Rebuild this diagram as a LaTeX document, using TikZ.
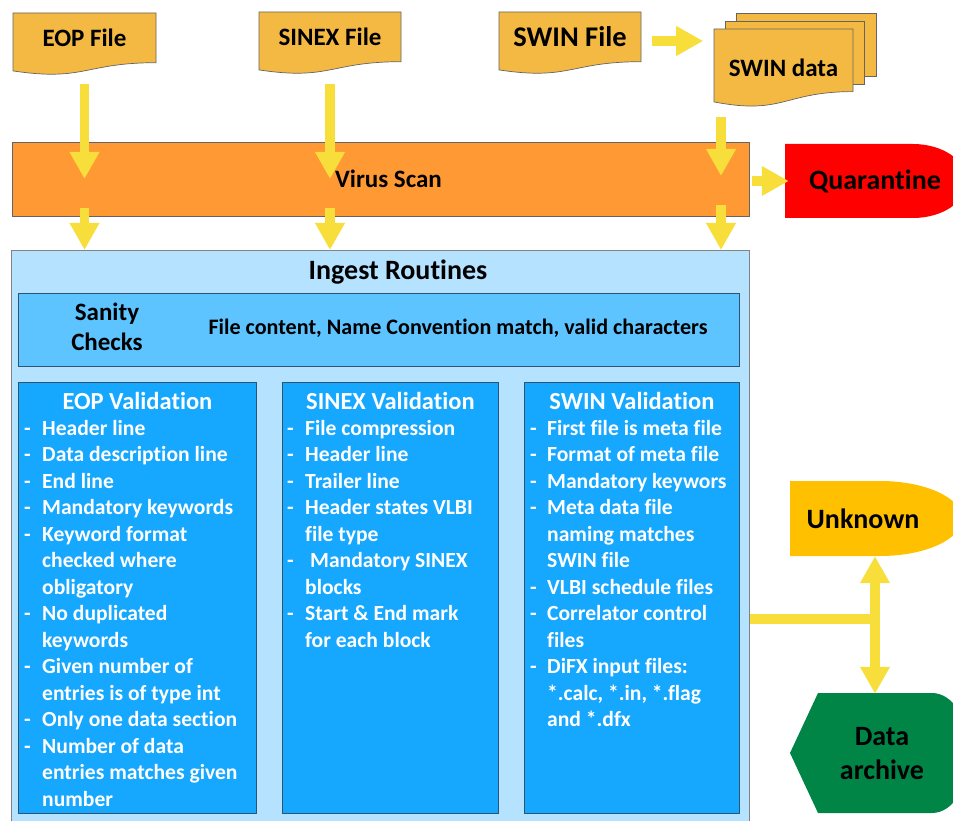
\documentclass[tikz,border=0pt]{standalone}
\usepackage{fontspec}
\setmainfont{Carlito}[Ligatures=NoCommon]
\usetikzlibrary{calc, positioning, arrows.meta}

\definecolor{docyellow}{RGB}{244,185,66}
\definecolor{docedge}{RGB}{100,100,100}
\definecolor{arrowyellow}{RGB}{247,222,58}
\definecolor{scanorange}{RGB}{255,153,51}
\definecolor{quarred}{RGB}{255,0,0}
\definecolor{unkyellow}{RGB}{255,192,0}
\definecolor{archgreen}{RGB}{0,133,71}
\definecolor{ingestblue}{RGB}{180,226,255}
\definecolor{sanityblue}{RGB}{93,196,255}
\definecolor{validblue}{RGB}{22,167,255}
\definecolor{validedge}{RGB}{45,85,115}

\begin{document}
\begin{tikzpicture}[x=1pt, y=-1pt,
  fatarrow/.style={draw=arrowyellow, line width=9.5pt, -{Triangle[width=28pt,length=27pt]}},
  fatline/.style={draw=arrowyellow, line width=9.5pt},
  doc/.style={fill=docyellow, draw=docedge, line width=0.7pt},
  doctext/.style={font=\bfseries\fontsize{25}{30}\selectfont, inner sep=0pt},
  bigtext/.style={font=\bfseries\fontsize{28}{34}\selectfont, inner sep=0pt, align=center},
  validbox/.style={fill=validblue, draw=validedge, line width=0.8pt, anchor=north west, minimum height=431pt},
  validtitle/.style={font=\bfseries\fontsize{24.5}{29}\selectfont, text=white, anchor=base, inner sep=0pt},
  validlist/.style={font=\bfseries\fontsize{21.6}{26.5}\selectfont, text=white, anchor=base west, inner sep=0pt}]
  \useasboundingbox (0,0) rectangle (953,821);

  % Input files
  \draw[doc] (13,13) -- (156,13) -- (156,62.7) .. controls (84.5,62.7) and (84.5,81.7) .. (13,70.9) -- cycle;
  \node[doctext, minimum width=143pt, minimum height=50pt] (eop) at (84.5,38) {EOP File};
  \draw[doc] (259,12) -- (401,12) -- (401,61.7) .. controls (330,61.7) and (330,80.7) .. (259,69.9) -- cycle;
  \node[doctext, minimum width=142pt, minimum height=50pt] (sinex) at (330,37) {SINEX File};
  \draw[doc] (499,12) -- (641,12) -- (641,61.7) .. controls (570,61.7) and (570,80.7) .. (499,69.9) -- cycle;
  \node[doctext, font=\bfseries\fontsize{28.5}{34}\selectfont, minimum width=142pt, minimum height=50pt] (swinfile) at (570,37) {SWIN File};

  % Stack of SWIN data
  \draw[doc] (736,13) rectangle (876,76);
  \draw[doc] (725,21) rectangle (864,84);
  \draw[doc] (714,29) -- (853,29) -- (853,91.6) .. controls (783.5,91.6) and (783.5,115.4) .. (714,101.9) -- cycle;
  \node[doctext, minimum width=139pt, minimum height=46pt] (swindata) at (783.5,68) {SWIN data};
  \draw[fatarrow] ([shift={(11,4)}]swinfile.east) -- ++(51,0);

  % Virus scan
  \node[fill=scanorange, draw=docedge, line width=0.7pt, minimum width=737pt, minimum height=74pt,
        font=\bfseries\fontsize{25}{30}\selectfont] (virus) at (380.5,179) {\hspace*{16pt}Virus Scan};

  % Quarantine
  \fill[quarred] (785,144) -- (913,144) arc[start angle=90, end angle=-90, x radius=54pt, y radius=37pt] -- (785,218) -- cycle;
  \node[bigtext, minimum width=180pt, minimum height=74pt] (quar) at (875,181) {Quarantine};

  % Ingest routines
  \node[fill=ingestblue, draw=docedge!80, line width=0.8pt, anchor=north west,
        minimum width=738pt, minimum height=600pt] (ingest) at (11,250) {};
  \node[bigtext] (ingesttitle) at (398,272) {Ingest Routines};

  % Sanity checks
  \node[fill=sanityblue, draw=validedge, line width=0.8pt, minimum width=721pt, minimum height=73pt] (sanity) at (378.5,329.5) {};
  \node[font=\bfseries\fontsize{25}{30}\selectfont, align=center, inner sep=0pt] (sanitylabel) at (107,327) {Sanity\\Checks};
  \node[font=\bfseries\fontsize{22.1}{26.5}\selectfont, inner sep=0pt] (sanitytext) at (458,328)
    {File content, Name Convention match, valid characters};

  % Validation boxes
  \node[validbox, minimum width=238pt] (eopbox) at (18,382) {};
  \node[validbox, minimum width=216pt] (sinexbox) at (282,382) {};
  \node[validbox, minimum width=215pt] (swinbox) at (524,382) {};

  \node[validtitle] (eoptitle) at ($(eopbox.north)+(0,27)$) {EOP Validation};
  \node[validtitle] (sinextitle) at ($(sinexbox.north)+(0,27)$) {SINEX Validation};
  \node[validtitle] (swintitle) at ($(swinbox.north)+(0,27)$) {SWIN Validation};

  \node[validlist] (eoplist) at ($(eopbox.north west)+(6,53)$) {%
    \begin{tabular}[t]{@{}p{18pt}@{}l@{}}
    - & Header line\\
    - & Data description line\\
    - & End line\\
    - & Mandatory keywords\\
    - & Keyword format\\
      & checked where\\
      & obligatory\\
    - & No duplicated\\
      & keywords\\
    - & Given number of\\
      & entries is of type int\\
    - & Only one data section\\
    - & Number of data\\
      & entries matches given\\
      & number
    \end{tabular}};

  \node[validlist] (sinexlist) at ($(sinexbox.north west)+(5,53)$) {%
    \begin{tabular}[t]{@{}p{18pt}@{}l@{}}
    - & File compression\\
    - & Header line\\
    - & Trailer line\\
    - & Header states VLBI\\
      & file type\\
    - & \hspace{5pt}Mandatory SINEX\\
      & blocks\\
    - & Start \& End mark\\
      & for each block
    \end{tabular}};

  \node[validlist] (swinlist) at ($(swinbox.north west)+(6,53)$) {%
    \begin{tabular}[t]{@{}p{17pt}@{}l@{}}
    - & First file is meta file\\
    - & Format of meta file\\
    - & Mandatory keywors\\
    - & Meta data file\\
      & naming matches\\
      & SWIN file\\
    - & VLBI schedule files\\
    - & Correlator control\\
      & files\\
    - & DiFX input files:\\
      & *.calc, *.in, *.flag\\
      & and *.dfx
    \end{tabular}};

  % Unknown
  \fill[unkyellow] (790,481) -- (880,481) arc[start angle=90, end angle=-90, x radius=82pt, y radius=37.5pt] -- (790,556) -- cycle;
  \node[bigtext, minimum width=146pt, minimum height=75pt] (unknown) at (863,518.5) {Unknown};

  % Data archive
  \fill[archgreen] (790,753) -- (818,693) -- (932,693) arc[start angle=90, end angle=-90, x radius=38pt, y radius=60pt] -- (818,813) -- cycle;
  \node[bigtext, minimum width=184pt, minimum height=120pt] (archive) at (882,754) {Data\\archive};

  % Arrows into the virus scan
  \coordinate (swinx) at ([xshift=-62.5pt]swindata.south);
  \draw[fatarrow] ([yshift=-21pt]eop.south) -- (eop.south |- virus.center);
  \draw[fatarrow] ([yshift=-22pt]sinex.south) -- (sinex.south |- virus.center);
  \draw[fatarrow] ($(swinx)+(0,26)$) -- ($(swinx |- virus.center)+(0,-3)$);

  % Arrows out of the virus scan
  \draw[fatarrow] ($(eop.south |- virus.south)+(0,-8)$) -- (eop.south |- ingest.north);
  \draw[fatarrow] ($(sinex.south |- virus.south)+(0,-8)$) -- (sinex.south |- ingest.north);
  \draw[fatarrow] ($(swinx |- virus.south)+(0,-11)$) -- (swinx |- ingest.north);
  \draw[fatarrow] ($(virus.east |- quar.west)+(3,0)$) -- ($(quar.west)+(4,0)$);

  % Split towards unknown and archive
  \coordinate (split) at (875,619);
  \draw[fatline] (ingest.east |- split) -- ($(split)+(4.75,0)$);
  \draw[fatarrow] (split) -- (split |- unknown.south);
  \draw[fatarrow] (split) -- (split |- archive.north);
\end{tikzpicture}
\end{document}
